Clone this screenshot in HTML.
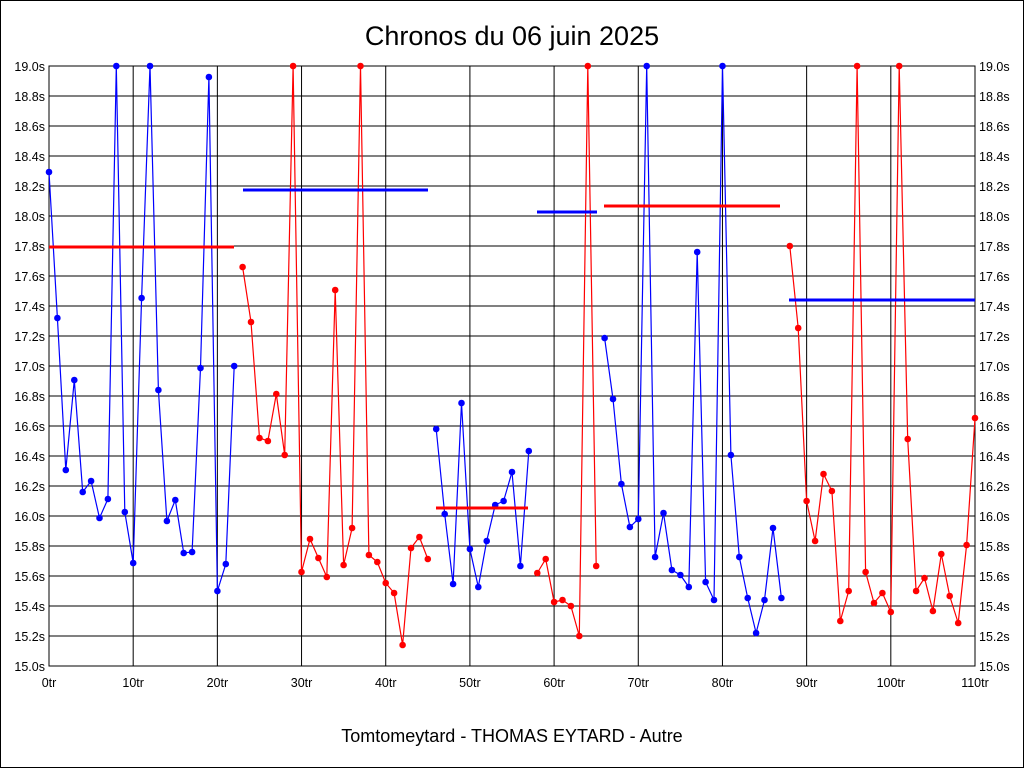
<!DOCTYPE html>
<html><head><meta charset="utf-8"><style>
html,body{margin:0;padding:0;background:#fff}
svg{display:block}
text{font-family:"Liberation Sans",Arial,sans-serif}
</style></head><body>
<svg id="s" width="1024" height="768" xmlns="http://www.w3.org/2000/svg">
<rect x="0.5" y="0.5" width="1023" height="767" fill="#fff" stroke="#000"/>
<text x="512" y="45" font-size="27" text-anchor="middle">Chronos du 06 juin 2025</text>
<text x="512" y="742" font-size="18" text-anchor="middle">Tomtomeytard - THOMAS EYTARD - Autre</text>
<g id="g"></g>
</svg>
<script>
var g=document.getElementById('g'),h='';
var X0=49,X1=975,Y0=66,Y1=666,dx=(X1-X0)/110;
for(var i=0;i<=20;i++){var y=Y0+i*30;h+='<line x1="'+X0+'" y1="'+y+'" x2="'+X1+'" y2="'+y+'" stroke="#000"/>';
var v=(19-i*0.2).toFixed(1)+'s';h+='<text x="45" y="'+(y+5)+'" font-size="12.5" text-anchor="end">'+v+'</text><text x="979" y="'+(y+5)+'" font-size="12.5">'+v+'</text>';}
for(var k=0;k<=11;k++){var x=X0+k*10*dx;h+='<line x1="'+x+'" y1="'+Y0+'" x2="'+x+'" y2="'+Y1+'" stroke="#000"/>';
h+='<text x="'+x+'" y="687" font-size="12.5" text-anchor="middle">'+(k*10)+'tr</text>';}
h+='<rect x="'+X0+'" y="'+Y0+'" width="'+(X1-X0)+'" height="'+(Y1-Y0)+'" fill="none" stroke="#000"/>';
var segs=[
['#00f',0,[172,318,470,380,492,481,518,499,66,512,563,298,66,390,521,500,553,552,368,77,591,564,366]],
['#f00',23,[267,322,438,441,394,455,66,572,539,558,577,290,565,528,66,555,562,583,593,645,548,537,559]],
['#00f',46,[429,514,584,403,549,587,541,505,501,472,566,451]],
['#f00',58,[573,559,602,600,606,636,66,566]],
['#00f',66,[338,399,484,527,519,66,557,513,570,575,587,252,582,600,66,455,557,598,633,600,528,598]],
['#f00',88,[246,328,501,541,474,491,621,591,66,572,603,593,612,66,439,591,578,611,554,596,623,545,418]]];
segs.forEach(function(s){var p=s[2].map(function(y,j){return (X0+(s[1]+j)*dx).toFixed(1)+','+y;});
h+='<polyline points="'+p.join(' ')+'" fill="none" stroke="'+s[0]+'" stroke-width="1.2"/>';
p.forEach(function(q){var a=q.split(',');h+='<circle cx="'+a[0]+'" cy="'+a[1]+'" r="3.3" fill="'+s[0]+'"/>';});});
[['#f00',49,234,247],['#00f',243,428,190],['#f00',436,528,508],['#00f',537,597,212],['#f00',604,780,206],['#00f',789,975,300]].forEach(function(a){
h+='<line x1="'+a[1]+'" y1="'+a[3]+'" x2="'+a[2]+'" y2="'+a[3]+'" stroke="'+a[0]+'" stroke-width="3"/>';});
g.innerHTML=h;
</script>
</body></html>
